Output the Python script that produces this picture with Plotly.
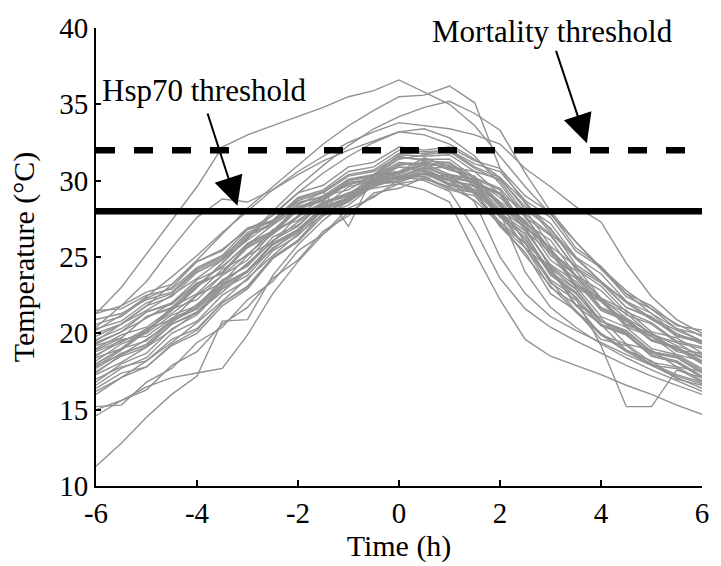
import plotly.graph_objects as go

# Time axis (hours relative to daily maximum)
time_h = [-6.0, -5.5, -5.0, -4.5, -4.0, -3.5, -3.0, -2.5, -2.0, -1.5, -1.0, -0.5,
          0.0, 0.5, 1.0, 1.5, 2.0, 2.5, 3.0, 3.5, 4.0, 4.5, 5.0, 5.5, 6.0]

# Daily temperature profiles (°C)
day01 = [19.0,19.9,20.4,21.6,22.2,23.8,24.8,26.6,27.6,29.0,29.4,30.4,30.6,31.0,30.2,29.9,28.5,27.4,25.1,23.8,21.7,21.0,19.6,19.1,18.2]
day02 = [18.2,19.3,20.0,21.2,21.8,23.5,24.4,26.1,27.0,28.6,29.1,30.3,30.5,31.1,30.4,29.8,27.9,26.7,24.5,23.4,21.5,20.8,19.5,19.0,18.0]
day03 = [20.0,20.6,21.8,22.4,24.0,24.8,26.4,27.1,28.5,29.0,30.1,30.4,31.5,31.4,31.4,30.2,29.5,27.6,26.4,24.3,23.3,21.7,21.1,19.8,19.4]
day04 = [17.5,18.5,19.1,20.6,21.4,23.1,24.1,25.9,26.8,28.3,28.8,29.9,29.9,30.5,29.8,29.4,27.6,26.3,23.8,22.6,20.8,20.1,18.8,18.4,17.5]
day05 = [19.6,20.3,21.4,21.9,23.3,23.9,25.7,26.6,28.2,28.8,30.0,30.4,31.7,31.6,31.7,30.6,30.1,28.3,27.2,25.0,23.9,22.1,21.3,19.9,19.5]
day06 = [18.8,19.5,20.1,21.7,22.6,24.2,25.1,26.8,27.4,28.6,29.0,30.1,30.2,30.3,29.5,29.2,27.3,25.9,23.3,22.2,20.5,19.9,18.7,18.4,17.4]
day07 = [16.8,18.0,18.7,20.3,21.2,22.9,23.8,25.6,26.6,28.2,28.8,30.0,30.2,30.9,30.3,30.1,28.6,27.7,25.3,24.1,22.2,21.3,19.9,19.4,18.4]
day08 = [20.6,21.1,22.3,23.0,24.7,25.4,26.9,27.4,28.6,28.9,30.0,30.3,31.4,31.7,31.9,30.8,30.0,27.8,26.5,24.2,23.1,21.4,20.7,19.5,19.1]
day09 = [15.2,15.3,16.8,17.7,19.4,20.4,22.2,23.4,25.4,26.5,28.2,28.9,30.1,30.2,30.4,29.1,28.0,25.6,24.2,21.8,20.6,18.9,18.2,17.0,16.6]
day10 = [17.0,17.8,18.2,19.6,20.3,22.0,23.1,25.0,26.1,27.9,28.7,30.1,30.5,31.3,30.7,30.3,28.4,26.9,24.3,22.9,20.8,20.0,18.6,18.2,17.2]
day11 = [21.3,21.8,22.7,23.2,24.7,25.5,26.8,27.3,28.8,29.3,30.4,30.7,31.8,31.8,32.0,31.1,30.6,28.7,27.6,25.4,24.3,22.4,21.6,20.3,19.9]
day12 = [18.5,19.6,19.8,21.0,21.7,23.4,24.5,26.3,27.1,28.5,29.0,30.2,30.6,31.5,30.9,30.6,29.1,28.1,25.7,24.4,22.3,21.5,20.1,19.7,18.7]
day13 = [11.3,12.8,14.5,16.0,17.2,20.8,20.9,23.8,25.8,27.4,28.7,29.6,30.2,30.5,30.0,29.2,27.8,25.6,23.4,21.5,20.0,18.9,18.0,17.3,16.8]
day14 = [15.0,15.6,16.5,17.1,17.4,17.7,19.9,22.6,24.7,26.5,27.9,29.0,29.8,30.1,29.6,28.7,27.2,25.1,23.1,21.4,19.9,18.8,17.9,17.1,16.4]
day15 = [21.3,23.0,25.2,27.4,29.6,32.2,33.0,33.6,34.2,34.8,35.5,35.9,36.6,35.8,35.0,33.6,31.6,29.6,27.8,26.0,24.3,22.8,21.6,20.6,19.8]
day16 = [20.4,21.8,23.4,25.6,27.6,28.8,28.6,29.4,30.4,31.3,32.0,32.6,33.2,33.0,32.4,31.4,30.2,28.6,26.8,25.0,23.4,22.0,20.9,20.0,19.3]
day17 = [19.5,20.6,21.8,23.2,24.8,26.5,28.2,29.6,31.0,32.4,33.6,34.6,35.5,35.6,36.2,35.1,30.8,28.5,26.6,24.9,23.4,22.1,21.0,20.2,19.5]
day18 = [18.0,19.0,20.2,21.5,23.0,24.6,26.3,28.0,29.6,31.0,32.3,33.4,34.2,34.8,35.2,34.4,33.3,30.5,28.0,26.0,24.2,22.6,21.3,20.3,19.5]
day19 = [20.2,21.2,22.4,23.7,25.1,26.6,28.0,29.4,30.6,31.6,32.5,33.2,33.8,33.6,33.4,33.0,32.4,30.8,29.6,28.3,27.3,24.6,22.4,20.9,20.0]
day20 = [17.8,18.9,20.1,21.5,23.0,24.6,26.2,27.8,29.2,30.5,31.6,32.5,33.2,33.4,32.8,31.6,29.8,27.6,25.5,23.7,22.1,20.8,19.8,19.0,18.4]
day21 = [18.6,19.4,20.3,21.3,22.5,23.8,25.2,26.5,27.7,28.6,29.2,29.5,29.8,29.4,28.6,25.3,22.2,19.6,18.5,17.9,17.3,16.6,16.0,15.3,14.7]
day22 = [17.9,18.6,19.6,20.7,21.9,23.2,24.6,26.0,27.3,28.4,29.2,29.9,30.3,30.0,29.3,26.8,23.6,21.6,20.4,19.5,18.7,17.9,17.2,16.6,16.0]
day23 = [19.3,20.1,21.0,22.0,23.2,24.4,25.8,27.1,28.2,29.0,29.7,30.3,30.9,30.6,30.0,28.6,25.0,22.6,21.1,20.2,19.4,18.6,17.9,17.2,16.7]
day24 = [16.2,17.1,18.2,19.4,20.7,22.1,23.6,25.1,26.5,27.8,28.8,29.6,30.2,30.4,30.1,29.4,27.9,24.0,21.7,20.4,19.3,18.4,17.6,16.9,16.2]
day25 = [17.3,18.1,19.1,20.2,21.4,22.7,24.1,25.5,26.8,28.0,28.9,29.7,30.2,30.5,30.2,29.4,28.0,26.1,24.1,22.3,19.2,15.2,15.2,17.6,17.1]
day26 = [19.8,20.6,21.5,22.5,23.6,24.8,26.1,27.3,28.4,29.3,27.0,30.4,31.0,31.2,30.8,30.0,28.9,27.3,25.5,23.8,22.3,21.0,20.0,19.2,18.6]
day27 = [16.4,17.4,17.8,19.2,20.0,21.8,22.9,24.9,26.1,27.9,28.6,29.8,29.9,30.5,29.7,29.2,27.1,25.6,23.0,21.9,19.9,19.3,18.1,17.8,16.9]
day28 = [20.9,21.3,22.2,22.7,24.2,25.0,26.5,27.2,28.7,29.2,30.3,30.6,31.6,31.3,31.2,29.9,29.1,26.7,25.3,23.0,22.1,20.5,20.0,18.9,18.7]
day29 = [18.0,19.0,19.5,20.9,21.6,23.2,24.1,25.9,26.8,28.3,28.9,30.1,30.4,31.1,30.4,30.1,28.3,27.2,24.8,23.6,21.6,20.9,19.5,19.1,18.1]
day30 = [19.2,19.7,21.1,21.7,23.2,24.0,25.6,26.5,28.1,28.7,29.9,30.1,31.1,31.1,31.2,30.1,29.4,27.0,25.5,23.1,22.2,20.4,19.8,18.6,18.2]
day31 = [14.6,15.6,16.3,17.9,18.8,20.6,21.7,23.6,24.8,26.7,27.7,29.2,29.5,30.2,29.4,29.0,27.1,25.9,23.5,22.4,20.5,19.9,18.5,18.1,17.1]
day32 = [21.5,21.6,22.5,22.9,24.3,25.1,26.8,27.7,29.2,29.7,30.9,31.2,32.2,32.0,32.2,31.3,30.8,29.0,27.9,25.6,24.4,22.6,21.8,20.5,20.2]
day33 = [17.4,18.6,19.3,20.8,21.6,23.2,24.1,25.8,26.7,28.2,28.8,30.1,30.3,30.9,30.2,29.9,28.1,26.9,24.4,23.1,21.1,20.4,19.0,18.6,17.7]
day34 = [18.9,19.7,21.1,21.6,23.1,24.0,25.8,26.7,28.3,28.8,30.0,30.3,31.2,31.1,31.1,29.9,29.2,26.9,25.6,23.2,22.3,20.6,20.0,18.8,18.5]
day35 = [16.0,17.1,17.8,19.3,20.2,22.0,23.0,24.9,26.0,27.7,28.4,29.7,30.0,30.7,30.0,29.7,27.8,26.5,23.9,22.7,20.6,20.0,18.5,18.1,17.1]
day36 = [20.3,20.8,22.0,22.6,24.1,24.9,26.6,27.4,28.9,29.4,30.6,30.9,32.0,31.9,32.0,30.9,30.2,28.1,26.9,24.5,23.4,21.7,21.0,19.8,19.5]
day37 = [17.7,18.7,19.2,20.6,21.3,23.0,24.0,25.8,26.7,28.2,28.8,30.0,30.2,30.8,30.0,29.6,27.7,26.5,24.0,22.9,20.8,20.2,18.8,18.5,17.6]
day38 = [19.4,20.1,21.4,22.0,23.5,24.3,25.9,26.7,28.2,28.7,29.8,30.0,30.9,30.8,30.9,29.8,29.1,27.2,26.1,23.8,22.8,21.2,20.6,19.4,19.0]
day39 = [16.6,17.7,18.4,20.0,20.8,22.5,23.5,25.4,26.4,28.1,28.7,29.9,30.1,30.7,29.8,29.3,27.0,25.3,22.6,21.5,19.6,19.2,17.9,17.7,16.8]
day40 = [18.4,19.0,20.3,20.9,22.5,23.3,25.1,26.0,27.7,28.3,29.6,30.0,31.1,31.0,31.0,29.6,28.6,25.9,24.3,21.9,21.0,19.3,18.9,17.8,17.5]

days = [day01, day02, day03, day04, day05, day06, day07, day08, day09, day10,
        day11, day12, day13, day14, day15, day16, day17, day18, day19, day20,
        day21, day22, day23, day24, day25, day26, day27, day28, day29, day30,
        day31, day32, day33, day34, day35, day36, day37, day38, day39, day40]

# Thresholds (°C)
hsp70_threshold = 28
mortality_threshold = 32
threshold_span = [-6, 6]

# Axis ticks
x_ticks = [-6, -4, -2, 0, 2, 4, 6]
x_tick_labels = ["-6", "-4", "-2", "0", "2", "4", "6"]
y_ticks = [10, 15, 20, 25, 30, 35, 40]

# Annotation anchors (data coordinates)
hsp_label_pos = (-3.85, 35.9)
hsp_arrow_tip = (-3.20, 28.35)
hsp_arrow_tail = (-3.80, 34.5)
mort_label_pos = (3.03, 39.8)
mort_arrow_tip = (3.72, 32.45)
mort_arrow_tail = (3.10, 38.6)

FONT = "Liberation Serif"
GRAY = "rgb(146,146,146)"

fig = go.Figure()
for d in days:
    fig.add_trace(go.Scatter(x=time_h, y=d, mode="lines",
                             line=dict(color=GRAY, width=1.4),
                             hoverinfo="skip", showlegend=False))

fig.add_trace(go.Scatter(x=threshold_span, y=[mortality_threshold] * 2, mode="lines",
                         line=dict(color="black", width=6.5, dash="19px,19px"),
                         showlegend=False))
fig.add_trace(go.Scatter(x=threshold_span, y=[hsp70_threshold] * 2, mode="lines",
                         line=dict(color="black", width=6.5),
                         showlegend=False))

annotations = [
    dict(x=hsp_arrow_tip[0], y=hsp_arrow_tip[1], ax=hsp_arrow_tail[0], ay=hsp_arrow_tail[1],
         xref="x", yref="y", axref="x", ayref="y", text="", showarrow=True,
         arrowhead=2, arrowsize=2.9, arrowwidth=2, arrowcolor="black", standoff=0),
    dict(x=mort_arrow_tip[0], y=mort_arrow_tip[1], ax=mort_arrow_tail[0], ay=mort_arrow_tail[1],
         xref="x", yref="y", axref="x", ayref="y", text="", showarrow=True,
         arrowhead=2, arrowsize=2.9, arrowwidth=2, arrowcolor="black", standoff=0),
    dict(x=hsp_label_pos[0], y=hsp_label_pos[1], xref="x", yref="y", text="Hsp70 threshold",
         showarrow=False, font=dict(family=FONT, size=31, color="black"),
         xanchor="center", yanchor="middle"),
    dict(x=mort_label_pos[0], y=mort_label_pos[1], xref="x", yref="y", text="Mortality threshold",
         showarrow=False, font=dict(family=FONT, size=31, color="black"),
         xanchor="center", yanchor="middle"),
]

fig.update_layout(
    width=721, height=566,
    margin=dict(l=96, r=13, t=21, b=80),
    paper_bgcolor="white", plot_bgcolor="white",
    showlegend=False,
    font=dict(family=FONT, color="black", size=29),
    annotations=annotations,
)
fig.update_xaxes(range=[-6, 6], tickmode="array", tickvals=x_ticks, ticktext=x_tick_labels,
                 ticks="inside", ticklen=6, tickwidth=1.5, tickcolor="black",
                 showline=True, linecolor="black", linewidth=2, mirror=False,
                 showgrid=False, zeroline=False,
                 tickfont=dict(family=FONT, size=29, color="black"),
                 title=dict(text="Time (h)", font=dict(family=FONT, size=30, color="black"), standoff=2))
fig.update_yaxes(range=[10, 40], tickmode="array", tickvals=y_ticks,
                 ticks="inside", ticklen=5, tickwidth=1.5, tickcolor="black",
                 showline=True, linecolor="black", linewidth=2, mirror=False,
                 showgrid=False, zeroline=False,
                 tickfont=dict(family=FONT, size=29, color="black"),
                 title=dict(text="Temperature (°C)", font=dict(family=FONT, size=30, color="black"), standoff=16))

fig.write_html("out.html")
